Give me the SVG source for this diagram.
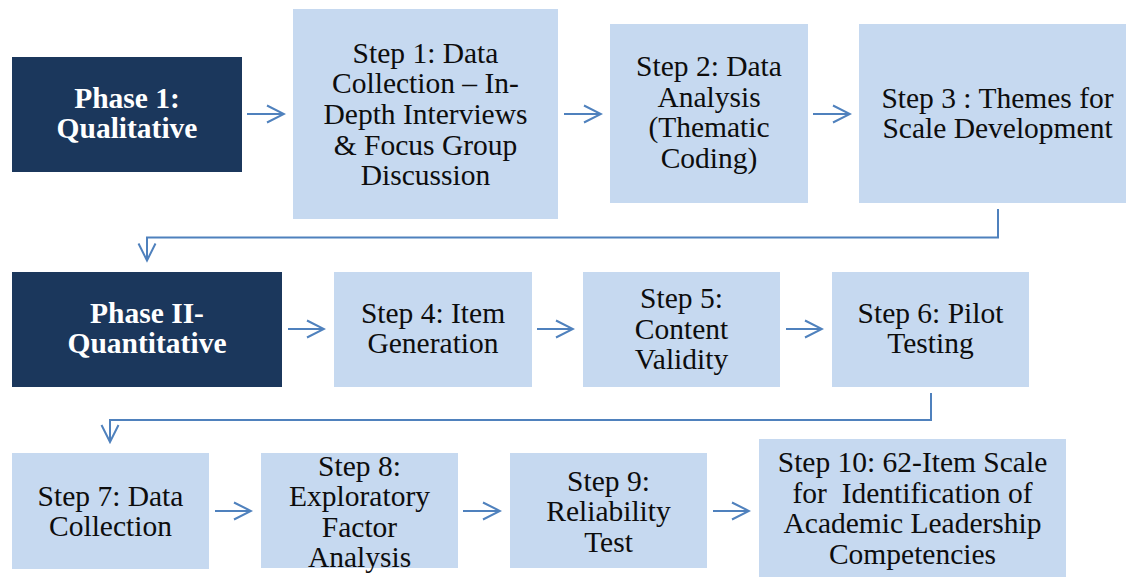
<svg xmlns="http://www.w3.org/2000/svg" width="1126" height="577" viewBox="0 0 1126 577">
<style>
.phase{fill:#1B375C}
.step{fill:#C6D9F0}
.pt{font-family:"Liberation Serif","Times New Roman",serif;font-size:29.5px;font-weight:bold;fill:#FFFFFF;text-anchor:middle}
.st{font-family:"Liberation Serif","Times New Roman",serif;font-size:29.5px;fill:#0D0D0D;text-anchor:middle}
.conn{fill:none;stroke:#4F81BD;stroke-width:2}
</style>
<defs>
<marker id="ah" markerUnits="userSpaceOnUse" markerWidth="20" markerHeight="22" refX="18" refY="10" orient="auto">
<path d="M1,1.5 L18,10 L1,18.5" fill="none" stroke="#4F81BD" stroke-width="2"/>
</marker>
</defs>
<rect width="1126" height="577" fill="#FFFFFF"/>

<g id="phase1">
<rect class="phase" x="12" y="57" width="230" height="115"/>
<text class="pt" x="127" y="108">Phase 1:</text>
<text class="pt" x="127" y="138">Qualitative</text>
</g>
<g id="step1">
<rect class="step" x="293" y="9" width="265" height="210"/>
<text class="st" x="425.5" y="62.5">Step 1: Data</text>
<text class="st" x="425.5" y="93.3">Collection – In-</text>
<text class="st" x="425.5" y="124">Depth Interviews</text>
<text class="st" x="425.5" y="154.7">&amp; Focus Group</text>
<text class="st" x="425.5" y="185.4">Discussion</text>
</g>
<g id="step2">
<rect class="step" x="610" y="24" width="198" height="179"/>
<text class="st" x="709" y="76">Step 2: Data</text>
<text class="st" x="709" y="106.5">Analysis</text>
<text class="st" x="709" y="137">(Thematic</text>
<text class="st" x="709" y="167.5">Coding)</text>
</g>
<g id="step3">
<rect class="step" x="859" y="24" width="267" height="179"/>
<text class="st" x="997.5" y="108">Step 3 : Themes for</text>
<text class="st" x="997.5" y="138">Scale Development</text>
</g>

<g id="phase2">
<rect class="phase" x="12" y="272" width="270" height="115"/>
<text class="pt" x="147" y="323">Phase II-</text>
<text class="pt" x="147" y="353">Quantitative</text>
</g>
<g id="step4">
<rect class="step" x="334" y="272" width="198" height="115"/>
<text class="st" x="433" y="323">Step 4: Item</text>
<text class="st" x="433" y="353">Generation</text>
</g>
<g id="step5">
<rect class="step" x="583" y="272" width="197" height="115"/>
<text class="st" x="681.5" y="308">Step 5:</text>
<text class="st" x="681.5" y="338.5">Content</text>
<text class="st" x="681.5" y="369">Validity</text>
</g>
<g id="step6">
<rect class="step" x="832" y="272" width="197" height="115"/>
<text class="st" x="930.5" y="323">Step 6: Pilot</text>
<text class="st" x="930.5" y="353">Testing</text>
</g>

<g id="step7">
<rect class="step" x="12" y="453" width="197" height="116"/>
<text class="st" x="110.5" y="506">Step 7: Data</text>
<text class="st" x="110.5" y="536">Collection</text>
</g>
<g id="step8">
<rect class="step" x="261" y="453" width="197" height="115"/>
<text class="st" x="359.5" y="475.5">Step 8:</text>
<text class="st" x="359.5" y="506">Exploratory</text>
<text class="st" x="359.5" y="536.5">Factor</text>
<text class="st" x="359.5" y="567">Analysis</text>
</g>
<g id="step9">
<rect class="step" x="510" y="453" width="197" height="115"/>
<text class="st" x="608.5" y="490.5">Step 9:</text>
<text class="st" x="608.5" y="521">Reliability</text>
<text class="st" x="608.5" y="551.5">Test</text>
</g>
<g id="step10">
<rect class="step" x="759" y="439" width="307" height="138"/>
<text class="st" x="912.5" y="472">Step 10: 62-Item Scale</text>
<text class="st" x="912.5" y="502.5" xml:space="preserve" style="white-space:pre">for  Identification of</text>
<text class="st" x="912.5" y="533">Academic Leadership</text>
<text class="st" x="912.5" y="563.5">Competencies</text>
</g>

<g id="connectors">
<line class="conn" x1="247" y1="114" x2="284" y2="114" marker-end="url(#ah)"/>
<line class="conn" x1="564" y1="114" x2="601" y2="114" marker-end="url(#ah)"/>
<line class="conn" x1="813" y1="114" x2="850" y2="114" marker-end="url(#ah)"/>
<polyline class="conn" points="998,209 998,237.5 147,237.5 147,260.5" marker-end="url(#ah)"/>
<line class="conn" x1="288" y1="329" x2="324" y2="329" marker-end="url(#ah)"/>
<line class="conn" x1="537" y1="329" x2="573" y2="329" marker-end="url(#ah)"/>
<line class="conn" x1="786" y1="329" x2="822" y2="329" marker-end="url(#ah)"/>
<polyline class="conn" points="931,393 931,420 110,420 110,442" marker-end="url(#ah)"/>
<line class="conn" x1="215" y1="511" x2="251" y2="511" marker-end="url(#ah)"/>
<line class="conn" x1="463" y1="511" x2="500" y2="511" marker-end="url(#ah)"/>
<line class="conn" x1="713" y1="511" x2="749" y2="511" marker-end="url(#ah)"/>
</g>
</svg>
